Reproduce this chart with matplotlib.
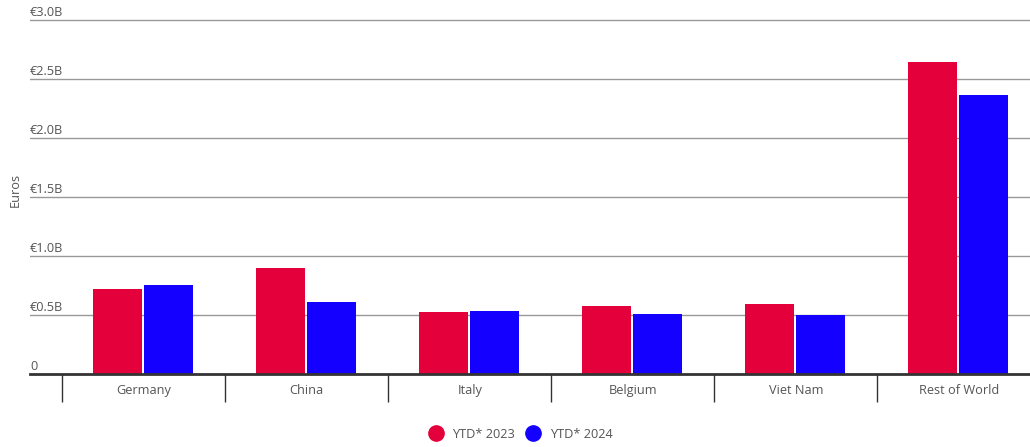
import numpy as np
import matplotlib
matplotlib.use('Agg')
import matplotlib.pyplot as plt
from matplotlib.lines import Line2D

categories = ['Germany', 'China', 'Italy', 'Belgium', 'Viet Nam', 'Rest of World']
ytd_2023 = [0.72, 0.90, 0.525, 0.576, 0.593, 2.644]
ytd_2024 = [0.754, 0.61, 0.534, 0.508, 0.50, 2.364]
series_names = ['YTD* 2023', 'YTD* 2024']
y_ticks = [0, 0.5, 1.0, 1.5, 2.0, 2.5, 3.0]
y_tick_labels = ['0', '€0.5B', '€1.0B', '€1.5B', '€2.0B', '€2.5B', '€3.0B']

RED = '#E4003B'
BLUE = '#1400FF'
TXT = '#555555'

plt.rcParams['font.family'] = ['Open Sans', 'DejaVu Sans']

W, H = 1030, 447
fig = plt.figure(figsize=(W / 100, H / 100), dpi=100)
# pixel geometry: zero line at y=374, 3.0B at y=20, left edge 30
ymax = 3.05
px_per = (374 - 20) / 3.0
top_px = 374 - ymax * px_per
ax = fig.add_axes([30 / W, (H - 374) / H, 1 - 30 / W, (374 - top_px) / H])

x = np.arange(len(categories))
cat_px = 163.0
center0 = 143.8

bw = 49 / cat_px
ax.bar(x - 26.0 / cat_px, ytd_2023, width=bw, color=RED, zorder=3)
ax.bar(x + 25.0 / cat_px, ytd_2024, width=bw, color=BLUE, zorder=3)

# gridlines + labels sitting on them
for t in y_ticks[1:]:
    ax.axhline(t, color='#999999', lw=1, zorder=1)
for t, lab in zip(y_ticks, y_tick_labels):
    ax.text(0.0, t + 0.03, lab, transform=ax.get_yaxis_transform(),
            ha='left', va='baseline', fontsize=9.2, color=TXT)

for s in ['top', 'right', 'left']:
    ax.spines[s].set_visible(False)
ax.spines['bottom'].set_color('#333333')
ax.spines['bottom'].set_linewidth(2)
ax.spines['bottom'].set_zorder(4)
ax.set_yticks([])

ax.set_xticks(x)
ax.set_xticklabels(categories, fontsize=9.2, color=TXT)
ax.tick_params(axis='x', which='major', length=0, pad=7)
ax.set_xticks(np.arange(len(categories) + 1) - 0.5, minor=True)
ax.tick_params(axis='x', which='minor', length=20, width=1, color='#333333', direction='out')

# limits last so the tick setters don't widen them
ax.set_xlim((30 - center0) / cat_px, (1030 - center0) / cat_px)
ax.set_ylim(0, ymax)

fig.text(15 / W, 1 - 190 / H, 'Euros', rotation=90, ha='center', va='center',
         fontsize=9.2, color=TXT)

handles = [Line2D([], [], marker='o', ls='', markersize=11, color=RED),
           Line2D([], [], marker='o', ls='', markersize=11, color=BLUE)]
fig.legend(handles, series_names, loc='center', bbox_to_anchor=(521 / W, 1 - 434 / H),
           ncol=2, frameon=False, fontsize=9.2, labelcolor=TXT, handletextpad=0.8,
           columnspacing=0.9, handlelength=1.0)

fig.savefig('out.png', dpi=100)
